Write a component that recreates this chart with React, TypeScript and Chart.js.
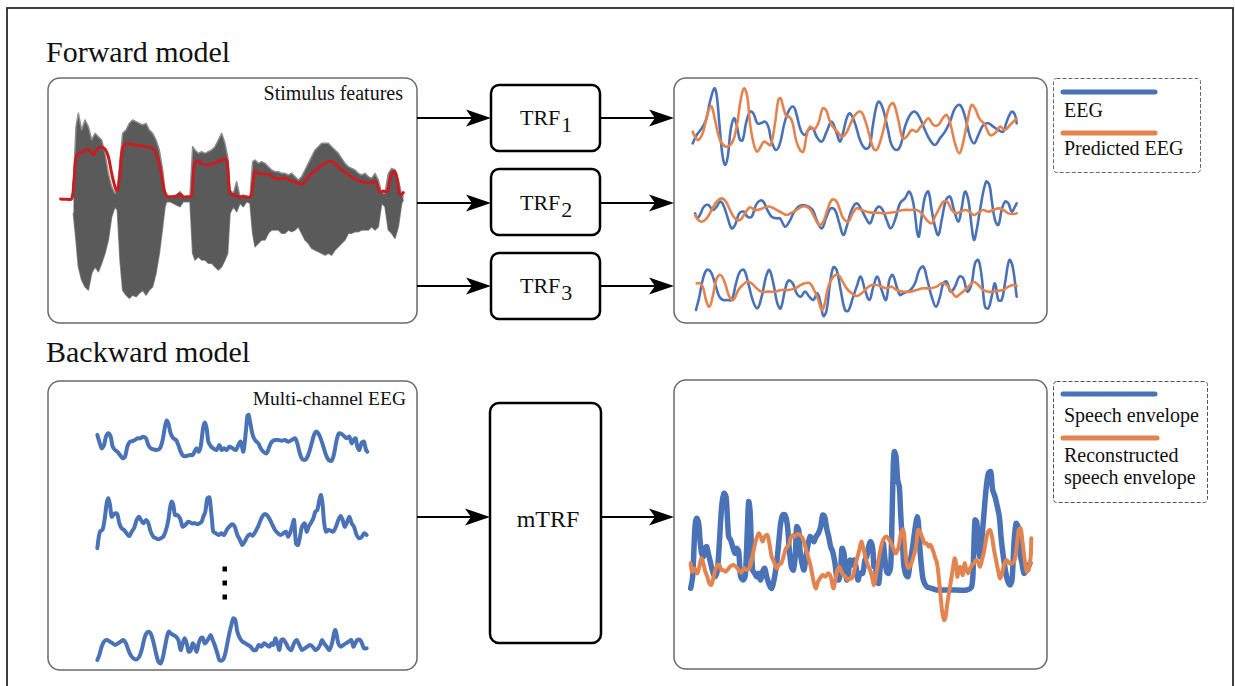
import React, { useEffect, useRef } from "react";
import { Chart, registerables } from "chart.js";

Chart.register(...registerables);

// ---------------- DATA ----------------
// Stimulus (speech waveform) : time samples, upper and lower extent of the waveform
const STIM_T = [220,228,235,245,255,265,275,285,295,305,315,325,335,345,352,360,368,378,388,398,408,418,428,438,448,458,468,478,488,495,500,510,520,530,540,550,560,570,578,585,595,605,615,625,635,645,655,665,675,683,690,700,710,720,730,740,750,758,765,775,785,795,805,815,825,835,845,855,865,875,885,895,905,915,925,935,945,955,965,975,985,995,1005,1015,1025,1035,1045,1055,1065,1075,1085,1095,1105,1115,1125,1135,1145,1155,1165,1175,1185,1195,1205,1210];
const STIM_UPPER = [560,380,340,390,360,380,420,400,410,420,460,520,560,580,570,480,400,390,370,360,365,370,375,370,390,400,420,450,510,570,590,592,590,585,575,590,590,590,440,450,460,455,460,455,450,440,420,400,430,470,570,580,545,590,585,590,590,485,480,490,485,490,500,510,515,515,520,520,525,520,530,540,530,510,490,470,450,440,430,430,430,440,450,460,475,490,500,505,510,520,525,520,530,535,520,540,580,580,520,505,510,540,585,590];
const STIM_LOWER = [640,720,800,840,860,870,820,800,815,790,760,720,650,620,630,780,870,885,895,885,890,880,870,885,870,860,820,760,680,620,605,605,610,615,620,605,605,605,760,780,770,780,780,790,790,800,810,800,780,760,640,620,635,610,620,605,610,700,740,730,720,720,700,690,690,690,700,700,690,695,690,680,700,720,730,745,750,755,760,765,760,765,750,740,730,720,700,700,695,695,690,690,690,680,690,680,610,620,690,700,715,680,610,600];
// Stimulus envelope (red)
const STIM_ENV = [[182,597],[200,598],[215,596],[222,540],[230,465],[245,458],[262,447],[272,455],[280,465],[290,448],[302,442],[315,447],[325,470],[335,520],[345,560],[352,572],[360,520],[368,445],[380,432],[400,434],[420,437],[440,440],[458,445],[470,465],[480,500],[490,560],[500,588],[515,590],[530,588],[540,582],[550,590],[565,590],[575,588],[582,500],[590,483],[605,490],[620,495],[640,490],[660,483],[678,477],[683,500],[690,580],[700,583],[715,590],[735,590],[752,590],[760,540],[765,515],[775,520],[790,522],[805,522],[820,532],[840,537],[855,534],[870,542],[890,547],[905,553],[915,545],[930,525],[945,512],[960,500],[975,490],[990,484],[1000,486],[1010,495],[1025,510],[1040,520],[1055,530],[1070,540],[1085,545],[1100,549],[1115,547],[1128,546],[1135,565],[1142,578],[1150,573],[1162,575],[1170,540],[1178,517],[1185,515],[1192,540],[1198,580],[1205,584],[1210,578]];

// Forward model: EEG (blue) vs predicted EEG (orange), three channels
const FWD_1_EEG = [[68,220],[80,195],[95,175],[108,150],[120,95],[133,55],[140,75],[148,160],[158,260],[166,285],[174,255],[182,180],[192,145],[200,165],[210,210],[218,210],[228,160],[240,125],[250,130],[262,160],[272,160],[285,155],[295,170],[305,215],[318,240],[330,220],[342,165],[355,125],[370,110],[380,135],[392,180],[405,195],[415,180],[428,175],[440,200],[455,215],[470,185],[485,155],[500,190],[510,215],[520,185],[530,145],[540,130],[555,160],[570,210],[585,235],[598,230],[608,170],[620,105],[628,95],[640,120],[655,185],[665,225],[680,240],[692,225],[705,170],[720,135],[735,125],[750,145],[765,180],[780,210],[795,225],[810,205],[825,185],[840,155],[855,115],[870,105],[885,140],[900,200],[912,220],[925,195],[940,165],[955,160],[970,170],[985,180],[1000,185],[1010,155],[1025,125],[1035,135],[1040,160]];
const FWD_1_PRED = [[68,185],[75,200],[85,210],[98,190],[108,150],[118,115],[125,110],[135,150],[148,205],[160,225],[172,230],[188,215],[200,170],[212,90],[222,55],[232,80],[240,160],[252,225],[262,245],[272,230],[282,215],[292,220],[302,225],[315,160],[325,90],[332,85],[342,120],[350,140],[358,140],[368,160],[378,210],[390,240],[400,245],[410,195],[420,170],[432,178],[445,160],[458,115],[468,120],[480,155],[492,175],[502,185],[515,200],[528,190],[540,165],[555,135],[572,125],[585,150],[598,195],[610,235],[620,240],[632,210],[645,160],[658,110],[670,100],[685,150],[698,205],[710,200],[725,180],[740,185],[752,170],[762,160],[775,145],[790,165],[805,165],[818,145],[830,135],[842,165],[855,220],[868,250],[880,215],[895,140],[905,105],[915,115],[928,145],[945,165],[960,195],[975,190],[990,170],[1005,180],[1020,165],[1035,150],[1040,145]];
const FWD_2_EEG = [[75,430],[82,445],[92,430],[102,410],[115,405],[128,420],[140,410],[150,395],[160,405],[172,440],[185,475],[195,465],[208,430],[222,425],[232,440],[245,440],[258,405],[270,392],[280,395],[292,420],[305,440],[320,445],[330,445],[345,470],[358,455],[370,430],[385,410],[400,405],[415,410],[428,420],[440,450],[455,475],[468,445],[482,415],[495,420],[508,460],[520,495],[530,470],[545,420],[560,400],[575,420],[588,445],[600,460],[612,430],[625,410],[638,420],[650,450],[662,475],[675,450],[690,400],[705,385],[718,365],[730,400],[745,500],[755,440],[765,380],[775,365],[785,420],[795,470],[805,495],[815,450],[828,390],[840,380],[852,420],[865,455],[875,415],[885,365],[895,390],[905,470],[912,510],[920,480],[930,420],[948,335],[958,345],[965,390],[975,450],[985,465],[995,420],[1005,395],[1015,400],[1025,425],[1035,410],[1040,400]];
const FWD_2_PRED = [[75,435],[85,450],[95,455],[110,445],[125,420],[140,395],[155,385],[168,395],[180,420],[195,445],[210,450],[225,430],[240,412],[255,420],[270,418],[285,412],[300,410],[320,420],[335,428],[350,435],[365,428],[380,420],[395,410],[410,410],[422,420],[435,445],[448,465],[460,455],[472,420],[485,390],[498,392],[510,420],[520,445],[535,455],[548,430],[560,415],[575,420],[590,425],[605,428],[620,428],[640,430],[660,428],[680,425],[700,420],[720,420],[740,420],[755,430],[770,450],[785,460],[795,440],[808,415],[820,395],[832,395],[845,420],[858,430],[872,425],[885,420],[898,425],[912,435],[925,428],[940,420],[955,425],[970,420],[985,415],[1000,420],[1015,430],[1030,432],[1040,430]];
const FWD_3_EEG = [[78,720],[88,680],[98,630],[110,600],[122,605],[135,640],[148,680],[160,690],[172,690],[185,690],[198,640],[210,605],[222,600],[235,640],[248,690],[262,715],[275,680],[288,620],[298,600],[310,640],[322,700],[332,715],[345,660],[355,632],[368,640],[380,670],[392,680],[405,665],[418,680],[430,690],[442,670],[452,700],[460,738],[470,720],[480,640],[490,592],[500,600],[512,660],[525,720],[535,722],[548,685],[560,650],[572,620],[585,660],[598,690],[610,650],[622,620],[635,660],[648,690],[658,630],[668,615],[680,650],[690,675],[700,670],[712,665],[722,660],[735,640],[748,600],[760,590],[772,630],[785,680],[798,710],[810,680],[820,640],[830,635],[842,665],[855,650],[868,620],[880,625],[892,665],[905,640],[915,580],[925,570],[935,620],[945,710],[955,715],[965,680],[975,640],[985,690],[995,690],[1005,640],[1018,570],[1028,590],[1040,680]];
const FWD_3_PRED = [[80,640],[90,640],[100,655],[108,690],[118,710],[128,680],[140,625],[152,615],[165,640],[178,680],[190,690],[205,660],[218,645],[232,635],[245,640],[260,655],[275,665],[295,665],[315,665],[335,660],[355,660],[375,655],[392,645],[405,640],[420,640],[432,660],[445,690],[455,720],[462,710],[475,650],[490,620],[505,615],[518,635],[530,655],[545,670],[560,678],[575,670],[590,655],[605,645],[620,645],[635,650],[650,655],[665,650],[680,660],[700,665],[720,665],[740,660],[760,655],[780,655],[800,650],[815,640],[830,645],[845,665],[858,680],[870,672],[885,660],[900,645],[912,636],[925,645],[940,660],[955,665],[970,665],[985,662],[1000,660],[1015,650],[1030,645],[1040,648]];

// Backward model: multi-channel EEG traces
const MC_1 = [[172,165],[178,185],[185,205],[192,195],[198,170],[205,160],[212,170],[218,200],[225,210],[232,215],[240,225],[248,235],[255,230],[262,200],[270,185],[278,183],[285,180],[292,175],[300,175],[310,170],[318,175],[325,195],[332,205],[340,208],[350,210],[360,205],[368,180],[375,140],[380,122],[385,130],[392,160],[400,175],[408,180],[415,195],[422,215],[430,228],[440,228],[450,225],[458,225],[465,212],[470,205],[476,215],[482,200],[490,140],[495,128],[500,145],[505,185],[512,198],[520,205],[530,210],[538,195],[545,210],[552,205],[560,210],[568,200],[578,205],[588,210],[595,195],[602,185],[610,215],[618,150],[622,108],[626,105],[632,135],[638,165],[645,180],[655,190],[662,205],[670,215],[680,220],[688,200],[696,185],[705,180],[715,180],[725,182],[735,180],[745,185],[755,180],[765,175],[772,190],[778,215],[785,235],[792,240],[800,235],[808,215],[815,190],[822,165],[828,155],[835,160],[842,175],[850,200],[858,225],[866,240],[875,242],[882,222],[890,180],[897,160],[905,162],[912,168],[920,175],[928,170],[935,190],[940,180],[947,175],[952,200],[958,210],[965,188],[972,185],[978,210],[982,215]];
const MC_2 = [[172,505],[175,480],[180,455],[188,448],[195,410],[200,370],[205,355],[210,375],[215,410],[220,405],[226,400],[232,403],[238,430],[245,445],[252,450],[260,460],[268,468],[275,455],[282,445],[290,420],[297,410],[303,420],[310,430],[318,420],[325,430],[332,455],[340,470],[348,475],[355,478],[362,475],[370,470],[378,450],[385,420],[390,385],[395,365],[400,375],[405,405],[412,405],[420,415],[428,440],[436,435],[445,425],[455,430],[465,430],[472,433],[478,430],[485,425],[490,410],[496,395],[502,355],[508,352],[512,380],[516,420],[520,455],[528,460],[536,465],[544,460],[552,465],[560,450],[568,440],[576,433],[584,440],[592,465],[600,480],[607,495],[614,485],[622,470],[630,463],[638,467],[646,455],[654,440],[662,420],[670,405],[678,403],[686,412],[695,430],[705,450],[714,460],[722,465],[730,460],[738,455],[744,470],[750,460],[756,440],[762,420],[768,490],[774,495],[780,470],[786,440],[794,430],[800,455],[806,440],[812,430],[820,415],[826,395],[832,390],[838,360],[843,345],[848,375],[852,425],[858,455],[865,450],[872,452],[880,455],[888,440],[895,420],[902,408],[908,420],[914,440],[920,430],[928,410],[935,430],[942,440],[950,465],[958,475],[966,470],[972,460],[980,465]];
const MC_3 = [[172,840],[178,825],[185,800],[192,785],[200,780],[210,785],[218,790],[226,795],[234,790],[242,785],[250,780],[258,790],[265,810],[272,825],[280,835],[290,838],[298,830],[305,810],[312,780],[318,762],[325,755],[332,760],[340,785],[348,820],[355,845],[362,850],[368,835],[375,800],[381,770],[386,755],[392,760],[400,765],[408,770],[415,780],[422,810],[428,790],[434,775],[440,790],[446,815],[452,812],[458,790],[464,800],[470,815],[476,790],[482,775],[488,773],[494,790],[500,785],[506,775],[512,765],[518,780],[524,795],[532,820],[538,840],[544,842],[550,838],[556,820],[562,790],[568,760],[574,735],[580,715],[586,720],[592,755],[600,775],[608,785],[616,790],[624,795],[632,800],[640,810],[648,810],[656,795],[664,800],[672,790],[680,795],[688,800],[694,790],[700,795],[706,775],[712,790],[718,810],[724,780],[730,778],[738,790],[746,805],[754,810],[762,790],[770,780],[778,795],[786,810],[794,805],[802,800],[810,795],[818,800],[826,810],[834,805],[840,795],[846,780],[852,790],[860,800],[868,810],[876,790],[882,760],[886,750],[890,765],[895,790],[902,800],[910,795],[918,790],[926,785],[934,780],[940,800],[946,790],[952,780],[960,780],[966,790],[972,805],[980,805]];

// Backward model: speech envelope (blue) vs reconstruction (orange)
const BWD_ENV = [[62,655],[68,620],[75,470],[80,445],[86,460],[90,510],[95,550],[100,560],[105,535],[110,530],[116,555],[122,580],[128,605],[135,620],[142,600],[148,520],[155,410],[162,370],[168,380],[172,440],[176,500],[182,510],[188,530],[195,550],[200,535],[206,545],[212,620],[220,630],[226,615],[232,480],[236,395],[240,420],[244,520],[248,600],[254,610],[260,620],[266,610],[272,630],[278,605],[284,595],[290,620],[298,645],[305,655],[312,630],[320,580],[326,520],[332,460],[338,435],[345,435],[352,465],[358,540],[364,590],[370,600],[376,555],[380,470],[386,480],[390,540],[395,575],[402,600],[408,560],[415,520],[420,500],[426,505],[432,515],[438,500],[445,490],[452,470],[458,435],[464,440],[470,475],[476,500],[482,530],[488,545],[495,580],[500,620],[506,630],[512,600],[516,535],[522,550],[526,600],[530,630],[535,610],[540,570],[546,585],[552,570],[558,590],[564,630],[570,610],[578,610],[585,570],[590,560],[596,530],[602,515],[608,535],[612,590],[616,580],[620,630],[626,640],[630,600],[636,540],[640,520],[644,560],[650,605],[656,610],[662,590],[666,450],[670,285],[673,245],[678,260],[683,330],[688,350],[692,430],[698,530],[702,590],[708,615],[714,620],[720,580],[728,530],[736,470],[742,440],[746,470],[750,540],[755,595],[760,630],[770,650],[785,655],[800,660],[830,660],[860,660],[890,660],[905,650],[910,580],[915,450],[920,455],[925,520],[930,560],[936,500],[942,430],[948,360],[955,310],[962,305],[968,360],[975,380],[982,410],[988,440],[994,510],[1000,560],[1006,600],[1012,630],[1020,645],[1026,630],[1032,520],[1038,460],[1044,470],[1050,550],[1056,580],[1062,610],[1068,600],[1075,590],[1080,580]];
const BWD_REC = [[62,580],[66,605],[72,595],[78,600],[82,610],[88,590],[94,565],[100,580],[106,605],[112,620],[118,640],[124,645],[130,625],[136,600],[142,585],[148,585],[154,600],[160,600],[166,605],[172,600],[180,590],[190,585],[198,590],[206,600],[214,608],[222,595],[230,600],[238,595],[244,575],[250,545],[258,510],[266,490],[272,500],[278,515],[284,500],[292,495],[298,520],[305,560],[312,575],[320,595],[326,585],[334,580],[342,555],[348,535],[356,525],[362,505],[368,495],[374,500],[382,492],[390,495],[398,505],[406,530],[414,560],[420,580],[426,610],[432,640],[438,655],[444,635],[450,625],[458,615],[466,620],[474,610],[482,620],[490,655],[496,630],[502,600],[508,590],[514,605],[520,615],[526,620],[534,630],[540,625],[546,625],[552,605],[560,570],[568,540],[574,515],[580,535],[586,560],[592,580],[600,600],[606,620],[612,645],[618,615],[624,580],[630,545],[636,520],[642,505],[650,500],[658,510],[666,525],[672,540],[678,550],[686,530],[692,495],[698,478],[702,490],[706,540],[710,580],[716,595],[724,580],[732,555],[738,530],[744,480],[750,485],[756,500],[764,520],[770,520],[776,530],[782,525],[790,545],[796,565],[800,575],[804,600],[810,660],[816,720],[822,750],[826,745],[832,700],[840,650],[848,600],[854,565],[858,580],[862,620],[866,600],[870,590],[874,600],[878,615],[884,580],[888,595],[894,610],[900,595],[906,585],[912,580],[918,570],[924,575],[930,590],[936,570],[942,545],[948,510],[954,485],[960,480],[966,500],[972,540],[978,570],[984,600],[990,625],[996,610],[1002,585],[1010,570],[1018,580],[1026,580],[1034,570],[1040,530],[1046,480],[1052,475],[1058,520],[1064,570],[1070,605],[1076,600],[1082,560],[1084,505]];

// Labels
const TITLE_FWD = "Forward model";
const TITLE_BWD = "Backward model";
const LABEL_STIM = "Stimulus features";
const LABEL_MC = "Multi-channel EEG";
const TRF_LABELS = ["1", "2", "3"];
const LEGEND_FWD = ["EEG", "Predicted EEG"];
const LEGEND_BWD = ["Speech envelope", "Reconstructed", "speech envelope"];

// ---------------- STYLE ----------------
const BLUE = "#4a72b6";
const ORANGE = "#e3834f";
const RED = "#c81d20";
const SERIF = '"Liberation Serif"';

const xy = (pts: number[][]) => pts.map(([x, y]) => ({ x, y }));

type WaveProps = {
  left: number; top: number; width: number; height: number;
  ox: number; oy: number; k: number;
  build: () => any[];
};

function WaveChart({ left, top, width, height, ox, oy, k, build }: WaveProps) {
  const ref = useRef<HTMLCanvasElement>(null);
  useEffect(() => {
    const chart = new Chart(ref.current as HTMLCanvasElement, {
      type: "line",
      data: { datasets: build() },
      options: {
        responsive: false,
        animation: false,
        events: [],
        layout: { padding: 0 },
        plugins: { legend: { display: false }, tooltip: { enabled: false } },
        scales: {
          x: { type: "linear", display: false, min: (left - ox) * k, max: (left + width - ox) * k },
          y: { type: "linear", display: false, reverse: true, min: (top - oy) * k, max: (top + height - oy) * k },
        },
        elements: {
          point: { radius: 0 },
          line: { borderCapStyle: "round", borderJoinStyle: "round" },
        },
      } as any,
    });
    return () => chart.destroy();
  }, []);
  return (
    <canvas
      ref={ref}
      width={width}
      height={height}
      style={{ position: "absolute", left, top, width, height }}
    />
  );
}

const line = (data: number[][], color: string, w: number, order: number, tension = 0.4) => ({
  data: xy(data),
  borderColor: color,
  borderWidth: w,
  fill: false,
  tension,
  order,
});

function Arrow({ x1, x2, y }: { x1: number; x2: number; y: number }) {
  return (
    <g>
      <line x1={x1} y1={y} x2={x2 - 18} y2={y} stroke="#000" strokeWidth={2} />
      <path d={`M ${x2} ${y} L ${x2 - 25} ${y - 8.5} L ${x2 - 19} ${y} L ${x2 - 25} ${y + 8.5} Z`} fill="#000" />
    </g>
  );
}

const T: React.CSSProperties = { fontFamily: SERIF };

export default function App() {
  const trfTops = [85, 169, 253];
  const trfArrowY = [118, 203, 286];
  return (
    <div style={{ position: "absolute", left: 0, top: 0, width: 1235, height: 686, overflow: "hidden", background: "#fff" }}>
      <svg width={1235} height={686} style={{ position: "absolute", left: 0, top: 0 }}>
        {/* outer frame */}
        <rect x={7} y={8} width={1226} height={720} fill="none" stroke="#2b2b2b" strokeWidth={1.8} />

        <text x={46} y={62} fontSize={30} fill="#111" style={T}>{TITLE_FWD}</text>
        <text x={46} y={362} fontSize={30} fill="#111" style={T}>{TITLE_BWD}</text>

        {/* panel boxes */}
        <rect x={48} y={78} width={369} height={245} rx={12} fill="none" stroke="#6a6a6a" strokeWidth={1.5} />
        <rect x={674} y={78} width={373} height={245} rx={12} fill="none" stroke="#6a6a6a" strokeWidth={1.5} />
        <rect x={48} y={381} width={369} height={289} rx={12} fill="none" stroke="#6a6a6a" strokeWidth={1.5} />
        <rect x={674} y={380} width={373} height={289} rx={12} fill="none" stroke="#6a6a6a" strokeWidth={1.5} />

        <text x={403} y={100} fontSize={20} textAnchor="end" fill="#111" style={T}>{LABEL_STIM}</text>
        <text x={406} y={405} fontSize={19.5} textAnchor="end" fill="#111" style={T}>{LABEL_MC}</text>

        {/* TRF boxes */}
        {trfTops.map((t, i) => (
          <g key={i}>
            <rect x={491} y={t} width={109} height={66} rx={8} fill="none" stroke="#000" strokeWidth={2.5} />
            <text x={520} y={trfArrowY[i] + 7} fontSize={22} fill="#111" style={T}>
              TRF<tspan dx={1} dy={6.5}>{TRF_LABELS[i]}</tspan>
            </text>
            <Arrow x1={417} x2={491} y={trfArrowY[i]} />
            <Arrow x1={600} x2={674} y={trfArrowY[i]} />
          </g>
        ))}

        {/* mTRF */}
        <rect x={490} y={403} width={111} height={240} rx={9} fill="none" stroke="#000" strokeWidth={2.5} />
        <text x={548} y={527} fontSize={24} textAnchor="middle" fill="#111" style={T}>mTRF</text>
        <Arrow x1={417} x2={490} y={517} />
        <Arrow x1={601} x2={674} y={517} />

        {/* ellipsis dots */}
        <rect x={222.5} y={566.5} width={4.5} height={5} fill="#000" />
        <rect x={222.5} y={580.5} width={4.5} height={5} fill="#000" />
        <rect x={222.5} y={594.5} width={4.5} height={5} fill="#000" />

        {/* legends */}
        <rect x={1053.5} y={78.5} width={147} height={94} rx={3} fill="none" stroke="#666" strokeWidth={1} strokeDasharray="4 2" />
        <line x1={1063} y1={92} x2={1155} y2={92} stroke={BLUE} strokeWidth={5} strokeLinecap="round" />
        <text x={1064} y={117} fontSize={20} fill="#111" style={T}>{LEGEND_FWD[0]}</text>
        <line x1={1063} y1={133} x2={1155} y2={133} stroke={ORANGE} strokeWidth={5} strokeLinecap="round" />
        <text x={1064} y={155} fontSize={20} fill="#111" style={T}>{LEGEND_FWD[1]}</text>

        <rect x={1053.5} y={381.5} width={154} height={121} rx={3} fill="none" stroke="#555" strokeWidth={1} strokeDasharray="4 2" />
        <line x1={1063} y1={394} x2={1155} y2={394} stroke={BLUE} strokeWidth={5} strokeLinecap="round" />
        <text x={1064} y={422} fontSize={20} fill="#111" style={T}>{LEGEND_BWD[0]}</text>
        <line x1={1063} y1={438} x2={1157} y2={438} stroke={ORANGE} strokeWidth={5} strokeLinecap="round" />
        <text x={1064} y={462} fontSize={20} fill="#111" style={T}>{LEGEND_BWD[1]}</text>
        <text x={1064} y={484} fontSize={20} fill="#111" style={T}>{LEGEND_BWD[2]}</text>
      </svg>

      {/* Stimulus features */}
      <WaveChart
        left={50} top={80} width={365} height={241} ox={0} oy={0} k={3}
        build={() => [
          line(STIM_ENV, RED, 3, 0, 0.4),
          {
            data: STIM_T.map((t, i) => ({ x: t, y: STIM_UPPER[i] })),
            borderColor: "#8c8c8c", borderWidth: 1.5, backgroundColor: "#5a5a5a",
            fill: "+1", tension: 0, order: 1,
          },
          {
            data: STIM_T.map((t, i) => ({ x: t, y: STIM_LOWER[i] })),
            borderColor: "#8c8c8c", borderWidth: 1.5, fill: false, tension: 0, order: 2,
          },
        ]}
      />

      {/* Forward model output */}
      <WaveChart
        left={676} top={80} width={369} height={241} ox={670} oy={70} k={3}
        build={() => [
          line(FWD_1_PRED, ORANGE, 2.6, 0),
          line(FWD_2_PRED, ORANGE, 2.6, 0),
          line(FWD_3_PRED, ORANGE, 2.6, 0),
          line(FWD_1_EEG, BLUE, 2.6, 1),
          line(FWD_2_EEG, BLUE, 2.6, 1),
          line(FWD_3_EEG, BLUE, 2.6, 1),
        ]}
      />

      {/* Multi-channel EEG */}
      <WaveChart
        left={50} top={383} width={365} height={285} ox={40} oy={380} k={3}
        build={() => [
          line(MC_1, BLUE, 4, 0, 0.3),
          line(MC_2, BLUE, 4, 0, 0.3),
          line(MC_3, BLUE, 4, 0, 0.3),
        ]}
      />

      {/* Backward model output */}
      <WaveChart
        left={676} top={382} width={369} height={285} ox={670} oy={370} k={3}
        build={() => [
          line(BWD_REC, ORANGE, 4, 0, 0.3),
          line(BWD_ENV, BLUE, 5.5, 1, 0.3),
        ]}
      />
    </div>
  );
}
